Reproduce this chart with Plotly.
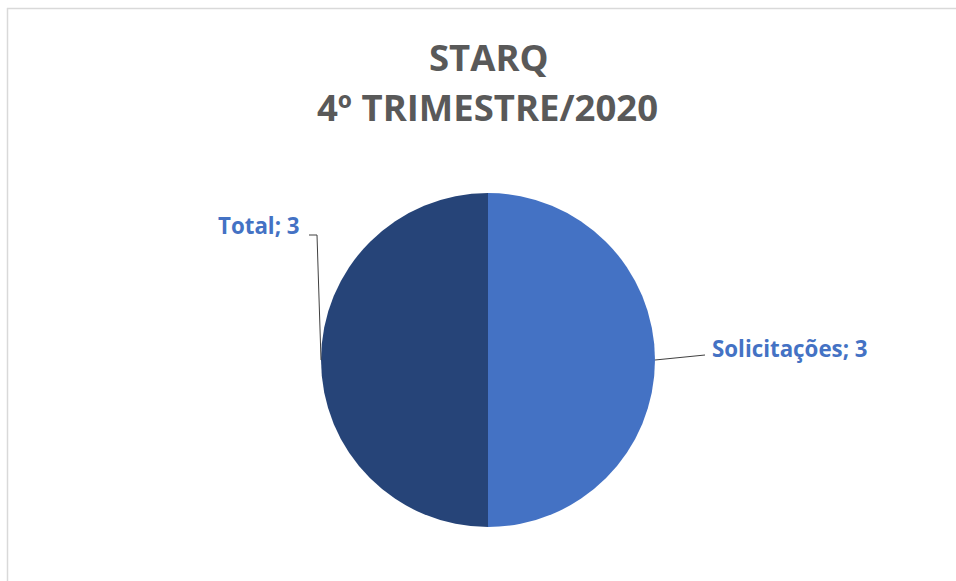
import math
import plotly.graph_objects as go

labels = ["Solicitações", "Total"]
values = [3, 3]
colors = ["#4472C4", "#264478"]
title_lines = ["STARQ", "4º TRIMESTRE/2020"]

W, H = 956, 581
cx, cy, r = 488, 360, 167  # pie centre / radius in px


def px(x):
    return x / W


def py(y):
    return 1 - y / H


fig = go.Figure(go.Pie(
    labels=labels, values=values, sort=False, direction="clockwise",
    rotation=0, marker=dict(colors=colors, line=dict(width=0)),
    textinfo="none", hoverinfo="label+value", showlegend=False,
    domain=dict(x=[px(cx - r), px(cx + r)], y=[py(cy + r), py(cy - r)]),
))

leader = {
    "Solicitações": dict(path=[(50, -5)], text_off=(5, -7), xanchor="left"),
    "Total": dict(path=[(-4, -125), (-12, -125)], text_off=(-7, -10), xanchor="right"),
}

total = sum(values)
start = 0.0
shapes = []
annotations = []
for lab, val, col in zip(labels, values, colors):
    frac = val / total
    mid = (start + frac / 2) * 2 * math.pi
    start += frac
    ax = cx + r * math.sin(mid)
    ay = cy - r * math.cos(mid)
    cfg = leader[lab]
    pts = [(ax, ay)] + [(ax + dx, ay + dy) for dx, dy in cfg["path"]]
    d = "M " + " L ".join(f"{px(x)},{py(y)}" for x, y in pts)
    shapes.append(dict(type="path", xref="paper", yref="paper", path=d,
                       line=dict(color="#404040", width=1)))
    ex, ey = pts[-1]
    tx, ty = ex + cfg["text_off"][0], ey + cfg["text_off"][1]
    annotations.append(dict(
        x=px(tx), y=py(ty), xref="paper", yref="paper", showarrow=False,
        text=f"<b>{lab}; {val}</b>", xanchor=cfg["xanchor"], yanchor="middle",
        font=dict(family="Open Sans", size=22.3, color="#4472C4"),
    ))

annotations.append(dict(
    x=px(489), y=py(57), xref="paper", yref="paper", showarrow=False,
    text=f"<b>{title_lines[0]}</b>", xanchor="center", yanchor="middle",
    font=dict(family="Open Sans", size=36.5, color="#595959"),
))
annotations.append(dict(
    x=px(487), y=py(107), xref="paper", yref="paper", showarrow=False,
    text=f"<b>{title_lines[1]}</b>", xanchor="center", yanchor="middle",
    font=dict(family="Open Sans", size=36.5, color="#595959"),
))

shapes.append(dict(type="line", xref="paper", yref="paper", x0=px(7), x1=px(960),
                   y0=py(8.5), y1=py(8.5), line=dict(color="#D9D9D9", width=1.5)))
shapes.append(dict(type="line", xref="paper", yref="paper", x0=px(7.5), x1=px(7.5),
                   y0=py(8), y1=py(590), line=dict(color="#D9D9D9", width=1.5)))

fig.update_layout(
    width=W, height=H, margin=dict(l=0, r=0, t=0, b=0),
    paper_bgcolor="white", plot_bgcolor="white",
    shapes=shapes, annotations=annotations,
)

fig.write_html(
    "out.html",
    config={"displayModeBar": False},
    post_script="document.body.style.margin='0px';document.body.style.overflow='hidden';",
)
